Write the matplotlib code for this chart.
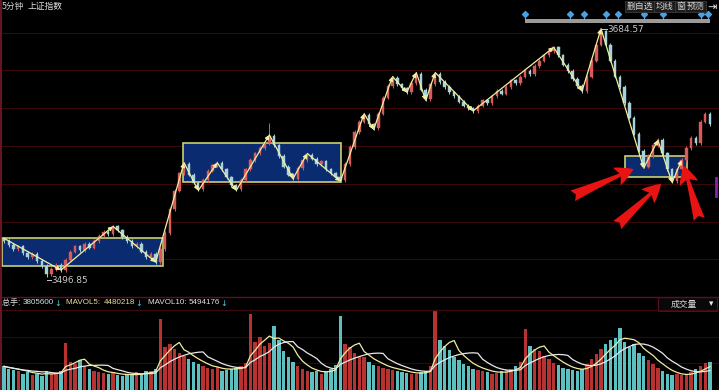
import matplotlib
matplotlib.use('Agg')
import matplotlib.pyplot as plt
from matplotlib.patches import Rectangle, FancyArrowPatch
from matplotlib.lines import Line2D
import matplotlib.transforms as mtransforms
import pandas as pd

plt.rcParams['font.family'] = ['Noto Sans CJK SC', 'DejaVu Sans']

# ---------------- data ----------------
closes = [
    3524, 3521, 3518, 3520, 3515, 3512, 3514, 3509, 3505, 3499,
    3503, 3506, 3502, 3510, 3516, 3520, 3517, 3522, 3519, 3524,
    3528, 3531, 3529, 3535, 3532, 3527, 3524, 3520, 3522, 3516,
    3512, 3514, 3508, 3518, 3530, 3548, 3562, 3575, 3582, 3574,
    3568, 3563, 3570, 3577, 3581, 3583, 3578, 3572, 3566, 3563,
    3570, 3578, 3585, 3590, 3594, 3598, 3603, 3596, 3588, 3580,
    3574, 3571, 3579, 3585, 3589, 3586, 3582, 3584, 3578, 3575,
    3572, 3570, 3582, 3595, 3606, 3614, 3619, 3612, 3609, 3620,
    3632, 3641, 3647, 3642, 3639, 3636, 3643, 3650, 3638, 3631,
    3642, 3650, 3644, 3640, 3636, 3633, 3629, 3626, 3624, 3622,
    3626, 3630, 3628, 3633, 3637, 3635, 3640, 3645, 3643, 3648,
    3652, 3650, 3656, 3660, 3664, 3667, 3670, 3664, 3657, 3652,
    3646, 3641, 3637, 3648, 3660, 3672, 3682, 3672, 3660, 3648,
    3640, 3628, 3617, 3605, 3592, 3580, 3588, 3596, 3600, 3590,
    3578, 3569, 3578, 3585, 3594, 3602, 3598, 3614, 3620, 3612,
]
first_open = 3526

# volume in millions of shares
volumes = [
    3.2, 2.9, 2.7, 2.5, 2.2, 2.4, 2.0, 2.2, 1.9, 2.6,
    2.1, 2.3, 2.5, 6.3, 3.8, 3.5, 4.0, 3.2, 2.9, 2.6,
    2.4, 2.3, 2.1, 2.4, 2.0, 1.9, 2.1, 2.0, 2.4, 2.2,
    2.6, 2.5, 2.8, 9.6, 5.8, 6.2, 5.5, 5.0, 4.6, 4.2,
    3.8, 3.5, 3.2, 3.0, 2.8, 3.1, 2.6, 2.7, 2.9, 3.0,
    3.3, 3.6, 10.3, 6.5, 7.2, 6.0, 6.4, 8.7, 6.8, 5.2,
    4.5, 3.8, 3.2, 2.8, 2.6, 2.4, 2.5, 2.2, 2.6, 2.9,
    3.4, 10.0, 6.2, 5.8, 5.0, 4.6, 4.4, 3.8, 3.4, 3.2,
    3.0, 2.9, 2.7, 2.6, 2.4, 2.3, 2.1, 2.2, 2.4, 2.6,
    3.2, 10.7, 6.8, 6.0, 5.4, 4.5, 4.0, 3.5, 3.2, 2.9,
    2.7, 2.6, 2.4, 2.2, 2.3, 2.5, 2.7, 2.9, 3.3, 3.8,
    8.3, 6.0, 5.6, 5.2, 4.6, 4.2, 3.6, 3.4, 3.0, 2.8,
    2.7, 2.6, 2.9, 3.5, 4.2, 4.8, 5.5, 6.2, 6.8, 7.0,
    8.4, 6.5, 5.8, 6.2, 5.0, 4.6, 4.0, 3.5, 3.0, 2.6,
    2.2, 2.0, 2.1, 2.0, 2.2, 2.4, 2.8, 3.2, 3.6, 3.81,
]

# zigzag pivots (candle index, price)
zz_idx = [0, 12, 23, 32, 38, 41, 45, 49, 56, 61, 64, 71, 76, 78, 82, 85,
          87, 89, 91, 99, 116, 122, 126, 135, 138, 141, 143]
zz_price = [3526, 3502, 3535, 3508, 3583, 3562, 3583, 3562, 3604, 3571,
            3590, 3569, 3620, 3608, 3648, 3636, 3651, 3630, 3651, 3622,
            3670, 3637, 3684, 3579, 3600, 3568, 3585]

# consolidation boxes: (start idx, end idx, low price, high price)
box_start = [-0.4, 37.8, 131.1]
box_end = [33.6, 71.1, 144.2]
box_low = [3505.1, 3568.5, 3572.2]
box_high = [3526.2, 3597.9, 3588.1]

# extremes
low_idx, low_val = 9, 3496.85
high_idx, high_val = 126, 3684.57
spike_idx, spike_val = 56, 3613

# event markers at top
event_idx = [110, 119.5, 122.5, 127, 129.5, 135, 139, 147, 148.5]

# red annotation arrows (tail idx, tail price, head idx, head price)
arr_tail_x = [119.5, 129.0, 146.9]
arr_tail_y = [3557.2, 3534.5, 3538.3]
arr_head_x = [133.4, 139.1, 143.3]
arr_head_y = [3579.0, 3568.5, 3582.8]

grid_levels = [3680.8, 3652.9, 3624.3, 3595.6, 3567.0, 3538.3, 3510.4]

hdr_total = '3805600'
hdr_ma5 = '4480218'
hdr_ma10 = '5494176'

# ---------------- figure ----------------
W, H = 719, 390
fig = plt.figure(figsize=(W / 100, H / 100), dpi=100, facecolor='black')

ax = fig.add_axes([0, 98 / H, 1, 292 / H], facecolor='black')
axv = fig.add_axes([0, 0, 1, 80 / H], facecolor='black')

n = len(closes)
xlim = (-0.844, 150.9)
for a in (ax, axv):
    a.set_xlim(*xlim)
    for s in a.spines.values():
        s.set_visible(False)
    a.tick_params(left=False, bottom=False, labelleft=False, labelbottom=False)

ax.set_ylim(3485.5, 3705.7)
ax.set_yticks(grid_levels)
ax.grid(axis='y', color='#3a0808', lw=0.8)
ax.set_axisbelow(True)

# boxes
for x0, x1, lo, hi in zip(box_start, box_end, box_low, box_high):
    ax.add_patch(Rectangle((x0, lo), x1 - x0, hi - lo, facecolor='#0b2b70',
                           edgecolor='#c8d070', lw=1.2, zorder=1))

# candles
up_c, dn_c = '#d85a5a', '#a6d2dc'
opens = [first_open] + closes[:-1]
for i, (o, c) in enumerate(zip(opens, closes)):
    col = up_c if c >= o else dn_c
    hi = max(o, c) + 1.3
    lo = min(o, c) - 1.3
    if i == low_idx:
        lo = low_val
    if i == high_idx:
        hi = high_val
    if i == spike_idx:
        hi = spike_val
    ax.vlines(i, lo, hi, color=col, lw=0.7, zorder=2)
    ax.add_patch(Rectangle((i - 0.26, min(o, c)), 0.52, max(abs(c - o), 0.4),
                           facecolor=col, edgecolor=col, lw=0.3, zorder=2))

# zigzag arrows
zz_col = '#f2f0a0'
for k in range(len(zz_idx) - 1):
    ax.annotate('', xy=(zz_idx[k + 1], zz_price[k + 1]), xytext=(zz_idx[k], zz_price[k]),
                arrowprops=dict(arrowstyle='-|>', color=zz_col, lw=0.9,
                                mutation_scale=6, shrinkA=0, shrinkB=0), zorder=3)

# extreme labels
ax.plot([low_idx, low_idx + 1.0], [low_val - 2.5, low_val - 2.5], color='#c8c8c8', lw=0.7, zorder=3)
ax.text(low_idx + 1.1, low_val - 2.5, '3496.85', color='#c8c8c8', fontsize=6.4,
        va='center', ha='left', family=['DejaVu Sans'], zorder=4)
ax.plot([high_idx, high_idx + 1.3], [high_val - 1.0, high_val - 1.0], color='#c8c8c8', lw=0.7, zorder=3)
ax.text(high_idx + 1.4, high_val - 1.0, '3684.57', color='#c8c8c8', fontsize=6.4,
        va='center', ha='left', family=['DejaVu Sans'], zorder=4)

# event bar and diamonds
bt = mtransforms.blended_transform_factory(ax.transData, ax.transAxes)
ax.add_patch(Rectangle((110, 0.922), 39, 0.013, transform=bt, facecolor='#9a9a9a',
                       edgecolor='none', zorder=4))
for e in event_idx:
    ax.plot([e, e], [0.935, 0.95], transform=bt, color='#6aaee0', lw=0.8, zorder=4)
ax.scatter(event_idx, [0.952] * len(event_idx), transform=bt, marker='D', s=9,
           color='#4aa0e0', zorder=5)

# red arrows
for tx, ty, hx, hy in zip(arr_tail_x, arr_tail_y, arr_head_x, arr_head_y):
    ax.add_patch(FancyArrowPatch((tx, ty), (hx, hy),
                                 arrowstyle='fancy,head_length=1.2,head_width=1.25,tail_width=0.75',
                                 mutation_scale=11, color='#e81414', lw=0, zorder=6))

# volume panel
up_flags = [c >= o for o, c in zip(opens, closes)]
vcols = ['#b83232' if u else '#5cc0c0' for u in up_flags]
axv.bar(range(n), volumes, width=0.72, color=vcols, zorder=2)
vs = pd.Series(volumes)
ma5 = vs.rolling(5, min_periods=1).mean()
ma10 = vs.rolling(10, min_periods=1).mean()
axv.plot(range(n), ma5, color='#f0eca0', lw=0.9, zorder=3)
axv.plot(range(n), ma10, color='#e8e8e8', lw=0.9, zorder=3)
axv.set_ylim(0, 10.8)
axv.set_yticks([3.65, 7.16])
axv.grid(axis='y', color='#300808', lw=0.8)
axv.set_axisbelow(True)

# frame lines
def hline_px(y, x0=0, x1=W, color='#5a1020', lw=1.0):
    fig.add_artist(Line2D([x0 / W, x1 / W], [1 - y / H, 1 - y / H], color=color, lw=lw,
                          transform=fig.transFigure))

hline_px(297, color='#5a1020')
hline_px(310, color='#3a0a10')
fig.add_artist(Line2D([1.2 / W, 1.2 / W], [0, 1], color='#7a1a2a', lw=1.2, transform=fig.transFigure))
fig.add_artist(Line2D([716 / W, 716 / W], [1 - 178 / H, 1 - 196 / H], color='#8a20b0', lw=2.0,
                      transform=fig.transFigure))

def ftext(x, y, s, color, size=6.8, ha='left', **kw):
    return fig.text(x / W, 1 - y / H, s, color=color, fontsize=size, ha=ha, va='center', **kw)

# top-left header
ftext(2, 6, '5分钟', '#d0d0d0', size=6.3)
ftext(27, 6, '上证指数', '#e0e0e0', size=6.3)

# top-right buttons
for x, s in [(640, '删自选'), (664.5, '均线'), (681, '窗'), (695.5, '预测')]:
    fig.text(x / W, 1 - 6.5 / H, s, color='#d8d8d8', fontsize=6.4, ha='center', va='center',
             bbox=dict(boxstyle='square,pad=0.15', facecolor='#1c1c1c', edgecolor='#3a3a3a', lw=0.6))
ftext(712, 6.5, '⇥', '#e8e8e8', size=8, ha='center')

# volume header: laid out piece by piece using measured widths
renderer = fig.canvas.get_renderer()
pieces = [('总手: ', '#e0e0e0', 0), (hdr_total, '#c8e8e8', 0), ('↓', '#40d0e0', 5),
          ('MAVOL5: ', '#e8e0a0', 0), (hdr_ma5, '#e8e0a0', 0), ('↓', '#40d0e0', 5),
          ('MAVOL10: ', '#e0e0e0', 0), (hdr_ma10, '#e0e0e0', 0), ('↓', '#40d0e0', 0)]
xcur = 2
for s, col, gap in pieces:
    if s.startswith('总手'):
        fam = ['Noto Sans CJK SC', 'DejaVu Sans']
    elif s == '↓':
        fam = ['DejaVu Sans']
    else:
        fam = ['Liberation Sans', 'DejaVu Sans']
    t = ftext(xcur, 303, s, col, size=5.8, family=fam)
    bb = t.get_window_extent(renderer=renderer)
    xcur += bb.width + 0.5 + gap

# dropdown box
fig.add_artist(Rectangle((658 / W, 1 - 311 / H), 59 / W, 14 / H, transform=fig.transFigure,
                         facecolor='#080808', edgecolor='#5a1020', lw=0.8))
ftext(684, 304, '成交量', '#d8d8d8', size=6.3, ha='center')
ftext(711, 304, '▾', '#e8e8e8', size=6.3, ha='center')

fig.savefig('out.png', dpi=100, facecolor='black')
